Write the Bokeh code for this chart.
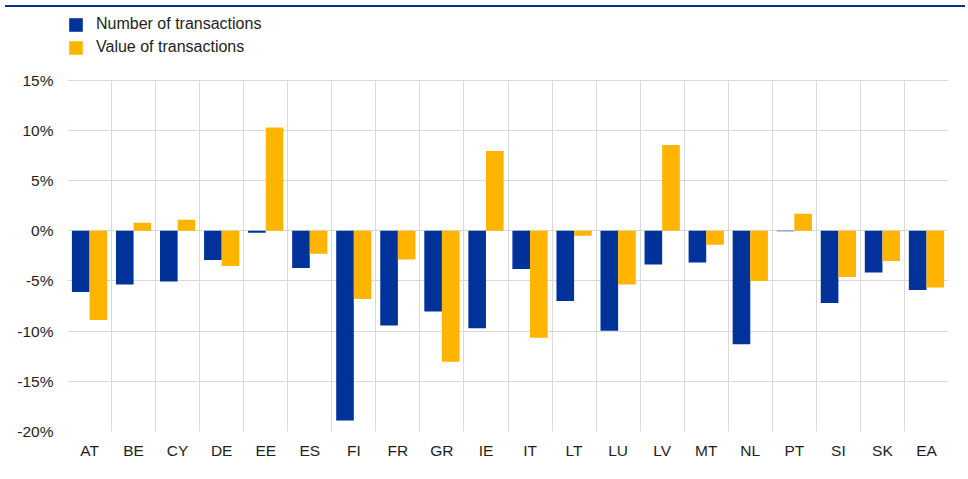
from bokeh.plotting import figure
from bokeh.models import ColumnDataSource, FixedTicker, Legend, LegendItem, Range1d, Div
from bokeh.layouts import column
from bokeh.embed import file_html
from bokeh.resources import INLINE

# ---- data ----
countries = ["AT", "BE", "CY", "DE", "EE", "ES", "FI", "FR", "GR", "IE",
             "IT", "LT", "LU", "LV", "MT", "NL", "PT", "SI", "SK", "EA"]
number_of_transactions = [-6.1, -5.35, -5.05, -2.9, -0.2, -3.7, -18.9, -9.45, -8.05, -9.7,
                          -3.8, -7.0, -9.95, -3.35, -3.15, -11.3, -0.05, -7.2, -4.15, -5.9]
value_of_transactions = [-8.9, 0.8, 1.1, -3.5, 10.3, -2.3, -6.8, -2.85, -13.05, 7.95,
                         -10.65, -0.5, -5.35, 8.55, -1.4, -5.0, 1.7, -4.6, -3.0, -5.65]
y_ticks = [-20, -15, -10, -5, 0, 5, 10, 15]

BLUE = "#003299"
YELLOW = "#FFB400"
FONT = "Liberation Sans"
TXT = "#1e1e1e"

n = len(countries)
centers = [i + 0.5 for i in range(n)]
src = ColumnDataSource(dict(
    xb=[c - 0.2 for c in centers],
    xy=[c + 0.2 for c in centers],
    num=number_of_transactions,
    val=value_of_transactions,
))

# headroom above the 15% line holds the legend
y_top = y_ticks[-1] + 6.45

p = figure(width=960, height=455, output_backend="svg", toolbar_location=None,
           x_range=Range1d(0, n), y_range=Range1d(y_ticks[0], y_top),
           min_border_left=67, min_border_right=12, min_border_top=3, min_border_bottom=36)
p.outline_line_color = None
p.background_fill_color = "white"
p.border_fill_color = "white"

r1 = p.vbar(x="xb", top="num", width=0.4, source=src, fill_color=BLUE, line_color=None)
r2 = p.vbar(x="xy", top="val", width=0.4, source=src, fill_color=YELLOW, line_color=None)

# axes
p.xaxis.ticker = FixedTicker(ticks=centers)
p.xaxis.major_label_overrides = {c: name for c, name in zip(centers, countries)}
p.yaxis.ticker = FixedTicker(ticks=y_ticks)
p.yaxis.major_label_overrides = {t: f"{t}%" for t in y_ticks}
for ax in (p.xaxis[0], p.yaxis[0]):
    ax.axis_line_color = None
    ax.major_tick_line_color = None
    ax.minor_tick_line_color = None
    ax.major_tick_out = 0
    ax.major_tick_in = 0
    ax.major_label_text_font = FONT
    ax.major_label_text_font_size = "15.5px"
    ax.major_label_text_color = TXT
p.yaxis.major_label_standoff = 14
p.xaxis.major_label_standoff = 10

# grids
p.xgrid.ticker = FixedTicker(ticks=list(range(n + 1)))
p.xgrid.cross_bounds = (y_ticks[0], y_ticks[-1])
p.ygrid.ticker = FixedTicker(ticks=y_ticks)
for g in (p.xgrid[0], p.ygrid[0]):
    g.grid_line_color = "#d9d9d9"
    g.grid_line_width = 1

legend = Legend(items=[LegendItem(label="Number of transactions", renderers=[r1]),
                       LegendItem(label="Value of transactions", renderers=[r2])],
                location="top_left", orientation="vertical",
                glyph_width=17, glyph_height=17, label_height=17, label_width=10,
                spacing=5, padding=0, margin=0, label_standoff=12,
                label_text_font=FONT, label_text_font_size="16px", label_text_color=TXT,
                border_line_color=None, background_fill_alpha=0)
p.add_layout(legend, "center")

top_line = Div(width=960, height=2, styles={"background-color": BLUE})
layout = column(top_line, p, spacing=0)

open("out.html", "w").write(file_html(layout, INLINE))
